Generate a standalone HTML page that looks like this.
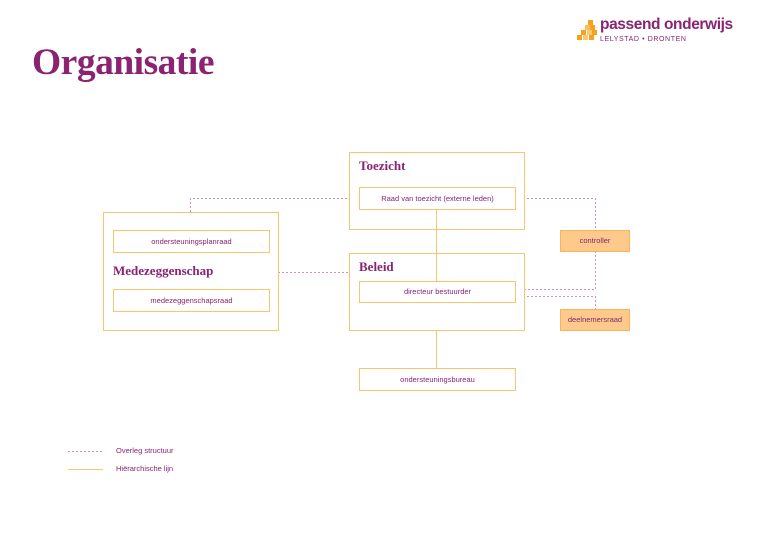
<!DOCTYPE html>
<html><head><meta charset="utf-8"><style>
body{margin:0;width:768px;height:543px;background:#fff;position:relative;overflow:hidden;font-family:"Liberation Sans",sans-serif;color:#8a2372}
.a{position:absolute}
.box{position:absolute;border:1px solid #fbc46e;box-sizing:border-box;background:#fff}
.sb{position:absolute;border:1px solid #fbc46e;box-sizing:border-box;background:#fff;font-size:7.5px;text-align:center;color:#8a2372}
.h{position:absolute;font-family:"Liberation Serif",serif;font-weight:bold;color:#8a2372}
</style></head><body>
<div class="h" style="left:32px;top:41px;font-size:37.5px;letter-spacing:-0.5px">Organisatie</div>
<svg class="a" style="left:576px;top:18px" width="24" height="24">
<g fill="#f7a21b"><rect x="12" y="2" width="5" height="5"/><rect x="9" y="7" width="5" height="5" opacity=".7"/><rect x="14" y="7" width="5" height="5"/><rect x="5" y="12" width="5" height="5"/><rect x="11" y="12" width="5" height="5" opacity=".6"/><rect x="16" y="12" width="5" height="5"/><rect x="1" y="17" width="5" height="5"/><rect x="7" y="17" width="5" height="5" opacity=".6"/><rect x="13" y="17" width="5" height="5"/></g></svg>
<div class="a" style="left:600px;top:16px;font-size:15.5px;font-weight:bold;color:#8a2372;letter-spacing:-0.4px">passend onderwijs</div>
<div class="a" style="left:600px;top:36px;font-size:7px;color:#8a2372;letter-spacing:0.6px">LELYSTAD • DRONTEN</div>

<svg class="a" style="left:0;top:0" width="768" height="543">
<g stroke="#d08ec4" stroke-width="1" stroke-dasharray="2,2" fill="none">
<path d="M190.5 212V198.5H359"/>
<path d="M515 198.5H595.5V230"/>
<path d="M595.5 251V289.5H515"/>
<path d="M515 296.5H595.5V309"/>
<path d="M278 272.5H349"/>
<path d="M68 451.5H103"/>
</g>
<g stroke="#fbc46e" stroke-width="1"><path d="M436.5 209V368"/><path d="M68 469.5H103"/></g>
</svg>

<div class="box" style="left:349px;top:152px;width:176px;height:78px"></div>
<div class="h" style="left:359px;top:158px;font-size:13px">Toezicht</div>
<div class="box" style="left:349px;top:253px;width:176px;height:78px"></div>
<div class="h" style="left:359px;top:259px;font-size:13px">Beleid</div>
<div class="box" style="left:103px;top:212px;width:176px;height:119px"></div>
<div class="h" style="left:113px;top:263px;font-size:13px">Medezeggenschap</div>
<svg class="a" style="left:0;top:0" width="768" height="543"><path d="M436.5 209V281" stroke="#fbc46e"/></svg>

<div class="sb" style="left:359px;top:187px;width:157px;height:23px;line-height:21px">Raad van toezicht (externe leden)</div>
<div class="sb" style="left:359px;top:281px;width:157px;height:22px;line-height:20px">directeur bestuurder</div>
<div class="sb" style="left:113px;top:230px;width:157px;height:23px;line-height:21px">ondersteuningsplanraad</div>
<div class="sb" style="left:113px;top:289px;width:157px;height:23px;line-height:21px">medezeggenschapsraad</div>
<div class="sb" style="left:359px;top:368px;width:157px;height:23px;line-height:21px">ondersteuningsbureau</div>
<div class="sb" style="left:560px;top:230px;width:70px;height:22px;line-height:20px;background:#fdca8c;border-color:#f9b457">controller</div>
<div class="sb" style="left:560px;top:309px;width:70px;height:22px;line-height:20px;background:#fdca8c;border-color:#f9b457">deelnemersraad</div>

<div class="a" style="left:116px;top:446px;font-size:7.5px">Overleg structuur</div>
<div class="a" style="left:116px;top:464px;font-size:7.5px">Hiërarchische lijn</div>
</body></html>
